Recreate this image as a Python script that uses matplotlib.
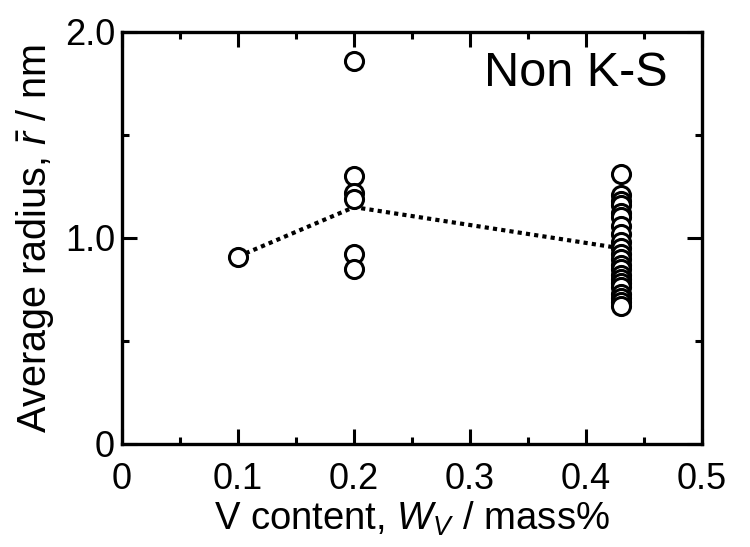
import numpy as np
import matplotlib
matplotlib.use("Agg")
from matplotlib import pyplot as plt
from matplotlib.ticker import MultipleLocator, FixedLocator

plt.rcParams['font.family'] = ['Liberation Sans', 'DejaVu Sans']
plt.rcParams['mathtext.fontset'] = 'custom'
plt.rcParams['mathtext.rm'] = 'Liberation Sans'
plt.rcParams['mathtext.it'] = 'Liberation Sans:italic'

# measured radii for each V content
x_01 = [0.10]
r_01 = [0.91]
x_02 = [0.20] * 6
r_02 = [1.86, 1.30, 1.22, 1.19, 0.92, 0.85]
x_043 = [0.43] * 22
r_043 = [1.31, 1.21, 1.18, 1.16, 1.12, 1.10, 1.06, 1.02, 0.98, 0.95, 0.92,
         0.90, 0.87, 0.85, 0.82, 0.80, 0.78, 0.76, 0.73, 0.71, 0.69, 0.67]

# average trend line
avg_x = [0.10, 0.20, 0.43]
avg_r = [0.91, 1.15, 0.95]

fig = plt.figure(figsize=(7.5, 5.47), dpi=100)
ax = fig.add_axes([0.1627, 0.1883, 0.7733, 0.7532])

ax.plot(avg_x, avg_r, color='black', linestyle=(0, (1, 1)), linewidth=3.0, zorder=1)

xs = x_01 + x_02 + x_043
rs = r_01 + r_02 + r_043
ax.plot(xs, rs, linestyle='none', marker='o', markersize=13,
        markerfacecolor='white', markeredgecolor='black', markeredgewidth=2.2, zorder=2)

ax.set_xlim(0, 0.5)
ax.set_ylim(0, 2.0)
ax.xaxis.set_major_locator(FixedLocator([0, 0.1, 0.2, 0.3, 0.4, 0.5]))
ax.xaxis.set_minor_locator(MultipleLocator(0.05))
ax.yaxis.set_major_locator(FixedLocator([0, 1.0, 2.0]))
ax.yaxis.set_minor_locator(MultipleLocator(0.5))
ax.set_xticklabels(['0', '0.1', '0.2', '0.3', '0.4', '0.5'])
ax.set_yticklabels(['0', '1.0', '2.0'])

for s in ax.spines.values():
    s.set_linewidth(2.4)
ax.tick_params(which='both', direction='in', top=True, right=True, labelsize=26)
ax.tick_params(axis='x', which='both', pad=13)
ax.tick_params(axis='y', which='both', pad=5)
ax.tick_params(which='major', length=11, width=2.2)
ax.tick_params(which='minor', length=5, width=2.2)

ax.set_xlabel('V content, $W_V$ / mass%', fontsize=27.5, labelpad=2)
ax.set_ylabel(r'Average radius, $\bar{r}$ / nm', fontsize=28.5, labelpad=6)

ax.text(0.941, 0.90, 'Non K-S', transform=ax.transAxes, ha='right', va='center', fontsize=35)

fig.savefig('out.png', dpi=100)
